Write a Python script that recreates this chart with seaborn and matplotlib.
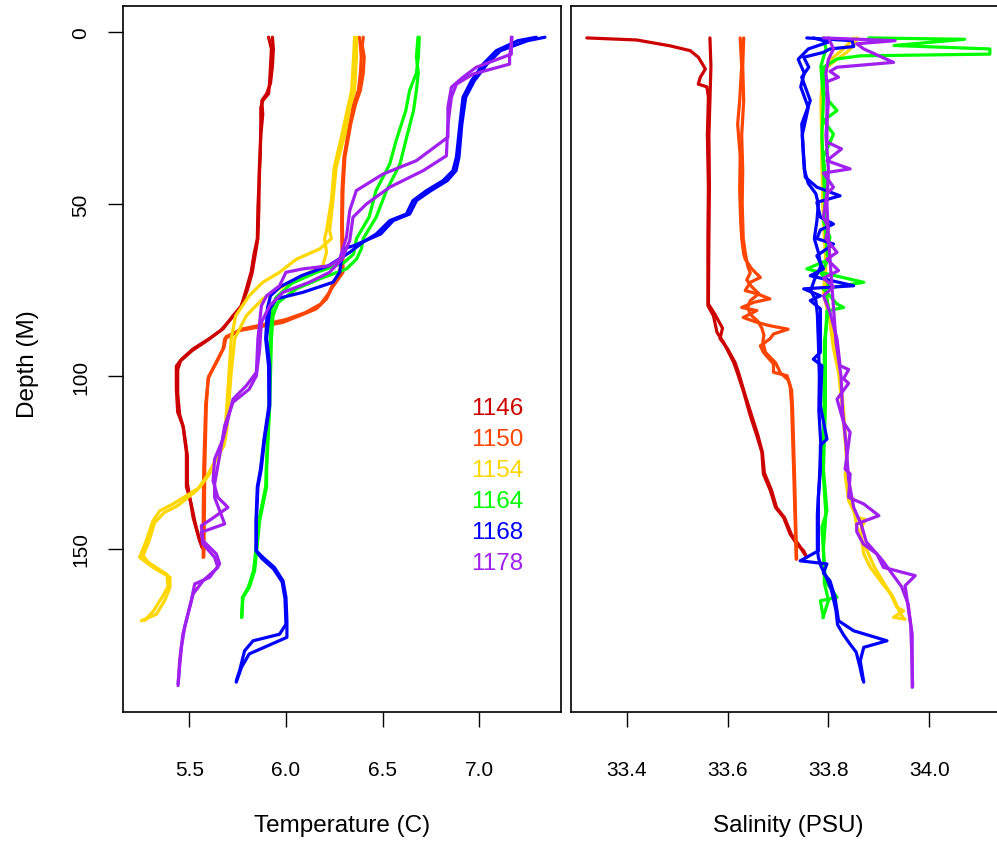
import matplotlib
matplotlib.use("Agg")
import matplotlib.pyplot as plt
import seaborn as sns
import pandas as pd

# ---------------- data ----------------
stations = ["1146", "1150", "1154", "1164", "1168", "1178"]
station_colors = ["#CD0000", "#FF4500", "#FFD700", "#00FF00", "#0000FF", "#A020F0"]

# Temperature profiles (two casts per station): depth (m) and temperature (C)
t1146a_d = [1.6, 5, 10, 15, 18, 20, 22, 26, 36, 51, 60, 64.5, 69.7, 74.6, 79.5, 82.4, 86.2, 89, 92, 95, 97, 103.7, 110.4, 114.3, 122, 132, 137, 141.9, 147.7, 150.5]
t1146a_v = [5.91, 5.925, 5.92, 5.915, 5.91, 5.88, 5.87, 5.87, 5.867, 5.855, 5.852, 5.835, 5.82, 5.795, 5.77, 5.726, 5.675, 5.605, 5.52, 5.46, 5.433, 5.433, 5.44, 5.467, 5.485, 5.485, 5.51, 5.528, 5.554, 5.575]
t1146b_d = [1.6, 5, 10, 15, 18, 20, 24, 30, 40, 51, 60, 65, 70, 75, 80, 83, 86.5, 89.5, 92.5, 95.5, 98, 105, 111, 115, 123, 131, 136, 141, 146, 149.5]
t1146b_v = [5.93, 5.935, 5.93, 5.92, 5.9, 5.875, 5.88, 5.87, 5.862, 5.86, 5.855, 5.84, 5.825, 5.80, 5.765, 5.72, 5.665, 5.595, 5.515, 5.455, 5.44, 5.44, 5.45, 5.47, 5.49, 5.49, 5.505, 5.52, 5.545, 5.565]

t1150a_d = [1.6, 4, 7.4, 12, 17, 21, 26.8, 36.4, 46, 55.8, 64.5, 69.8, 72.6, 74.6, 77.5, 80.4, 82.4, 84.3, 85.8, 86.7, 89.1, 92, 96.9, 100.7, 108.5, 126.9, 140, 152.4]
t1150a_v = [6.40, 6.395, 6.405, 6.40, 6.385, 6.36, 6.335, 6.305, 6.295, 6.292, 6.295, 6.295, 6.26, 6.235, 6.21, 6.157, 6.07, 5.985, 5.847, 5.76, 5.683, 5.675, 5.63, 5.597, 5.588, 5.58, 5.578, 5.575]
t1150b_d = [1.6, 4, 7.4, 12, 17, 21, 26.8, 36.4, 46, 55.8, 64.5, 68, 70.5, 73, 76, 79, 81.5, 83.5, 85, 86.3, 88.5, 91.5, 96, 100, 108, 126, 140, 152.5]
t1150b_v = [6.38, 6.385, 6.39, 6.385, 6.375, 6.35, 6.33, 6.30, 6.29, 6.288, 6.29, 6.285, 6.27, 6.245, 6.22, 6.18, 6.10, 6.0, 5.88, 5.77, 5.69, 5.68, 5.64, 5.60, 5.585, 5.575, 5.572, 5.572]

t1154a_d = [1.6, 7.4, 12, 17, 22, 29.7, 39.3, 49, 57.7, 60, 63, 66, 69.8, 72.7, 76.6, 82.4, 89, 103.7, 118, 122.5, 128.3, 132.2, 137, 139, 141.9, 147.7, 152.5, 155.4, 158.3, 161.2, 165, 169, 170.9]
t1154a_v = [6.365, 6.365, 6.36, 6.355, 6.33, 6.305, 6.26, 6.243, 6.226, 6.235, 6.175, 6.054, 5.967, 5.88, 5.81, 5.74, 5.717, 5.70, 5.683, 5.648, 5.605, 5.554, 5.416, 5.347, 5.312, 5.277, 5.243, 5.312, 5.40, 5.40, 5.373, 5.33, 5.252]
t1154b_d = [1.6, 7.4, 12, 17, 22, 29.7, 39.3, 49, 57.7, 60, 64, 67.9, 72.7, 77.5, 82.4, 89, 100, 115, 120, 124, 129, 133, 137.5, 139.5, 142.5, 148, 152, 154, 157.5, 161, 164, 168, 170.8]
t1154b_v = [6.355, 6.35, 6.345, 6.34, 6.32, 6.29, 6.25, 6.235, 6.21, 6.20, 6.21, 6.19, 6.02, 5.88, 5.795, 5.735, 5.715, 5.695, 5.68, 5.64, 5.59, 5.54, 5.44, 5.37, 5.32, 5.29, 5.26, 5.29, 5.385, 5.39, 5.36, 5.315, 5.27]

t1164a_d = [1.6, 7.4, 12, 17, 22.9, 31.6, 38.4, 46.1, 53.8, 60, 63, 66, 68.8, 71.7, 74.6, 78.5, 82.4, 89, 108.5, 127, 132, 141.9, 151.5, 156.4, 161.2, 164.1, 169.9]
t1164a_v = [6.683, 6.675, 6.685, 6.675, 6.66, 6.62, 6.59, 6.52, 6.467, 6.40, 6.39, 6.365, 6.313, 6.175, 6.054, 5.96, 5.933, 5.925, 5.916, 5.90, 5.90, 5.864, 5.847, 5.838, 5.81, 5.778, 5.77]
t1164b_d = [1.6, 7.4, 12, 17, 22.9, 31.6, 38.4, 46.1, 53.8, 60, 64.5, 67, 70, 73, 77, 81, 89, 108.5, 127, 132, 141.9, 151.5, 156.4, 161.2, 164.1, 169.9]
t1164b_v = [6.69, 6.685, 6.675, 6.64, 6.62, 6.57, 6.537, 6.466, 6.43, 6.365, 6.35, 6.30, 6.15, 6.03, 5.95, 5.925, 5.92, 5.912, 5.898, 5.895, 5.86, 5.842, 5.832, 5.805, 5.775, 5.772]

t1168a_d = [1.6, 2.6, 5.5, 9.4, 14.2, 19, 26.8, 36.4, 40.3, 43.2, 46.1, 49, 52.9, 54.8, 58.7, 62.1, 63, 69.8, 72.7, 75.6, 77.5, 80.4, 89, 96.9, 108.5, 118, 127, 132, 141.9, 150.6, 152.5, 155.4, 159.3, 164.1, 170.9, 175.7, 180.5, 184.4, 188.7]
t1168a_v = [7.34, 7.25, 7.11, 7.04, 6.975, 6.93, 6.91, 6.895, 6.88, 6.835, 6.75, 6.675, 6.64, 6.555, 6.49, 6.35, 6.295, 6.278, 6.243, 6.088, 5.95, 5.916, 5.90, 5.916, 5.916, 5.89, 5.872, 5.855, 5.847, 5.847, 5.881, 5.94, 5.985, 6.0, 6.005, 6.005, 5.81, 5.77, 5.743]
t1168b_d = [1.6, 2.6, 5.5, 9.4, 14.2, 19, 26.8, 36.4, 40.3, 43.2, 46.1, 49, 52.9, 54.8, 58.7, 61, 64, 67.9, 70.8, 74, 76.6, 80, 89, 96.9, 108.5, 118, 127, 132, 141.9, 150.6, 152.8, 155.8, 159.6, 164.4, 171.9, 174.8, 176.7, 179.6, 185.4, 188.3]
t1168b_v = [7.295, 7.2, 7.088, 7.02, 6.96, 6.916, 6.9, 6.882, 6.864, 6.813, 6.727, 6.657, 6.623, 6.537, 6.467, 6.40, 6.33, 6.22, 6.08, 5.97, 5.92, 5.905, 5.895, 5.91, 5.912, 5.887, 5.868, 5.852, 5.845, 5.845, 5.875, 5.935, 5.98, 5.995, 6.0, 5.967, 5.83, 5.786, 5.76, 5.743]

t1178a_d = [1.6, 6.5, 10.3, 13.2, 16.1, 21.9, 30.6, 37.4, 41.3, 46.1, 51.9, 59.6, 66, 67.9, 68.8, 69.8, 73.7, 76.6, 79.5, 89.1, 98.8, 102.7, 106.6, 112.4, 118.2, 124, 130.3, 135.1, 138, 141.4, 143.3, 147.7, 151.5, 154.4, 158.3, 160.2, 165.1, 172.8, 178.6, 189.2]
t1178a_v = [7.166, 7.166, 6.985, 6.916, 6.856, 6.838, 6.838, 6.675, 6.502, 6.364, 6.33, 6.313, 6.278, 6.226, 6.088, 6.0, 5.967, 5.90, 5.873, 5.855, 5.847, 5.795, 5.726, 5.70, 5.674, 5.631, 5.623, 5.648, 5.70, 5.614, 5.562, 5.571, 5.64, 5.657, 5.605, 5.528, 5.51, 5.476, 5.459, 5.442]
t1178b_d = [1.6, 7.4, 9.4, 12.3, 15.2, 19, 26.8, 36, 40.3, 45.1, 50, 53.8, 60.6, 66, 69.8, 72.7, 75.6, 79.5, 84.3, 92, 99.8, 103.7, 107.5, 114.3, 123, 131.2, 135.1, 142.8, 145.2, 148.6, 152.5, 155.4, 159.3, 163.1, 168.9, 174.7, 182.5, 189.7]
t1178b_v = [7.17, 7.157, 7.157, 6.967, 6.882, 6.856, 6.838, 6.83, 6.71, 6.537, 6.416, 6.347, 6.33, 6.29, 6.226, 6.12, 5.985, 5.916, 5.873, 5.864, 5.847, 5.81, 5.726, 5.683, 5.657, 5.631, 5.631, 5.683, 5.562, 5.571, 5.631, 5.648, 5.571, 5.52, 5.493, 5.467, 5.45, 5.442]

# Salinity profiles (two casts per station): depth (m) and salinity (PSU)
s1146a_d = [1.8, 2.4, 4.1, 5.5, 7.4, 10.8, 13.2, 15.2, 16, 19, 30, 45, 60, 79.5, 82.4, 87.2, 90.1, 95.9, 98.8, 104.6, 111.4, 117.2, 122, 128.3, 133.2, 138, 140.9, 145.7, 148.6, 150.6, 152.5]
s1146a_v = [33.321, 33.42, 33.486, 33.526, 33.542, 33.556, 33.546, 33.542, 33.559, 33.562, 33.56, 33.562, 33.561, 33.561, 33.572, 33.579, 33.592, 33.612, 33.619, 33.632, 33.645, 33.658, 33.668, 33.671, 33.685, 33.695, 33.711, 33.724, 33.737, 33.751, 33.757]
s1146b_d = [1.8, 10, 20, 30, 45, 60, 79, 82, 86, 89, 92, 96, 99, 105, 111, 117, 122, 128, 133, 138, 141, 146, 149, 151, 152]
s1146b_v = [33.565, 33.567, 33.565, 33.563, 33.564, 33.563, 33.562, 33.575, 33.59, 33.585, 33.6, 33.615, 33.622, 33.634, 33.647, 33.66, 33.669, 33.673, 33.687, 33.697, 33.713, 33.727, 33.742, 33.75, 33.755]

s1150a_d = [1.8, 10, 20, 26.8, 36, 46, 55, 60, 64.5, 66, 68.8, 71.3, 72.7, 75.1, 76, 77.5, 78.5, 80, 80.9, 82.9, 84.3, 85.3, 86.3, 87.7, 89.1, 91.1, 93, 96.4, 98.8, 99.8, 102.7, 108.5, 118.2, 126.9, 141.9, 153]
s1150a_v = [33.625, 33.628, 33.624, 33.62, 33.625, 33.624, 33.626, 33.628, 33.632, 33.635, 33.648, 33.665, 33.645, 33.635, 33.658, 33.684, 33.652, 33.628, 33.658, 33.631, 33.658, 33.684, 33.72, 33.691, 33.684, 33.665, 33.671, 33.691, 33.691, 33.718, 33.724, 33.727, 33.729, 33.731, 33.734, 33.736]
s1150b_d = [1.8, 10, 20, 30, 40, 50, 60, 65, 68, 70, 72, 74, 76, 78, 80, 82, 84, 86, 88, 90, 93, 96, 99, 101, 104, 110, 120, 130, 142, 153]
s1150b_v = [33.632, 33.63, 33.632, 33.628, 33.63, 33.629, 33.631, 33.636, 33.64, 33.645, 33.638, 33.648, 33.662, 33.645, 33.64, 33.645, 33.66, 33.668, 33.672, 33.67, 33.675, 33.695, 33.705, 33.72, 33.727, 33.729, 33.731, 33.733, 33.735, 33.737]

s1154a_d = [1.8, 4, 6, 8, 10.3, 17, 36, 50, 64.1, 75.6, 84.3, 92, 98.8, 108.5, 118.2, 126.9, 128.3, 136, 140.9, 141.5, 144.8, 151.5, 155.4, 159.3, 163.1, 167, 168, 169.9, 170.4]
s1154a_v = [33.857, 33.85, 33.836, 33.817, 33.797, 33.787, 33.787, 33.789, 33.797, 33.79, 33.803, 33.81, 33.82, 33.827, 33.833, 33.837, 33.833, 33.84, 33.856, 33.873, 33.863, 33.87, 33.883, 33.903, 33.923, 33.936, 33.949, 33.929, 33.952]
s1154b_d = [1.8, 5, 8, 11, 20, 40, 55, 65, 76, 85, 92, 100, 110, 120, 128, 135, 140, 145, 150, 155, 160, 164, 168, 170.5]
s1154b_v = [33.85, 33.83, 33.805, 33.79, 33.785, 33.788, 33.79, 33.794, 33.795, 33.806, 33.815, 33.823, 33.83, 33.835, 33.838, 33.845, 33.852, 33.858, 33.875, 33.89, 33.91, 33.928, 33.94, 33.95]

s1164a_d = [1.8, 2.2, 4.0, 5.0, 6.5, 7.0, 7.9, 10.3, 17, 20, 22.9, 25.8, 29.7, 36.4, 46.1, 55, 59.6, 64.5, 66, 68.8, 70, 72.7, 74.6, 79, 80, 81, 89.1, 108.5, 126.9, 139, 143.8, 159.3, 164.1, 165.1, 169.9]
s1164a_v = [33.88, 34.07, 33.93, 34.12, 34.12, 33.863, 33.817, 33.79, 33.79, 33.80, 33.817, 33.79, 33.81, 33.79, 33.797, 33.79, 33.803, 33.797, 33.803, 33.757, 33.79, 33.87, 33.79, 33.817, 33.83, 33.797, 33.794, 33.794, 33.79, 33.797, 33.787, 33.794, 33.817, 33.784, 33.79]
s1164b_d = [1.8, 5, 10, 20, 30, 40, 50, 60, 66, 70, 73, 76, 80, 90, 110, 127, 140, 150, 160, 165, 170]
s1164b_v = [33.79, 33.795, 33.785, 33.79, 33.787, 33.79, 33.793, 33.795, 33.80, 33.785, 33.80, 33.795, 33.80, 33.792, 33.791, 33.789, 33.795, 33.79, 33.792, 33.80, 33.789]

s1168a_d = [1.8, 2.6, 4.3, 5, 6, 7.4, 10.3, 13.2, 20, 26.8, 36.4, 42.2, 45.1, 47.6, 49.5, 53.8, 55.8, 57.5, 60, 61.6, 65, 68.8, 70.8, 73.7, 74.6, 76.6, 78, 80.4, 93, 95, 96.9, 108.5, 118.2, 120, 127, 135.1, 150.6, 153.5, 154.4, 157, 159.3, 164.1, 170.9, 173.8, 176.7, 178.6, 182.5, 188.7]
s1168a_v = [33.757, 33.847, 33.85, 33.803, 33.79, 33.751, 33.761, 33.747, 33.764, 33.747, 33.751, 33.754, 33.777, 33.823, 33.777, 33.784, 33.81, 33.784, 33.777, 33.81, 33.777, 33.79, 33.764, 33.85, 33.751, 33.784, 33.764, 33.784, 33.784, 33.77, 33.787, 33.784, 33.797, 33.784, 33.784, 33.78, 33.78, 33.744, 33.797, 33.79, 33.803, 33.813, 33.82, 33.85, 33.916, 33.87, 33.863, 33.87]
s1168b_d = [1.8, 3, 5, 8, 12, 16, 22, 30, 40, 44, 47, 50, 55, 60, 64, 68, 72, 75, 78, 82, 90, 100, 110, 120, 130, 140, 150, 152.5, 155, 158, 162, 168, 172, 175, 177.5, 180, 184, 188]
s1168b_v = [33.77, 33.80, 33.76, 33.74, 33.752, 33.745, 33.76, 33.748, 33.752, 33.76, 33.775, 33.78, 33.777, 33.772, 33.78, 33.785, 33.772, 33.765, 33.775, 33.778, 33.78, 33.782, 33.781, 33.785, 33.782, 33.778, 33.778, 33.78, 33.785, 33.795, 33.806, 33.815, 33.818, 33.83, 33.842, 33.855, 33.862, 33.868]

s1178a_d = [1.8, 2.6, 3.5, 5, 8.9, 10.3, 11.5, 13.2, 14.5, 26.8, 32, 34, 37.4, 39.8, 41, 45.1, 47, 53.8, 57, 60, 64, 66, 69.3, 71.5, 74, 76.6, 81.4, 89.1, 96.9, 98, 100.7, 102, 106.6, 113.3, 116.2, 126.9, 128.3, 135.1, 137, 140.4, 142.8, 145, 148.6, 151.5, 155.4, 157.8, 160.7, 168, 174.8, 190.2]
s1178a_v = [33.79, 33.932, 33.856, 33.87, 33.929, 33.817, 33.803, 33.82, 33.797, 33.797, 33.797, 33.826, 33.797, 33.843, 33.79, 33.81, 33.797, 33.79, 33.80, 33.795, 33.817, 33.797, 33.82, 33.79, 33.81, 33.79, 33.803, 33.817, 33.823, 33.84, 33.83, 33.84, 33.817, 33.83, 33.843, 33.833, 33.843, 33.84, 33.87, 33.90, 33.856, 33.856, 33.869, 33.896, 33.909, 33.972, 33.952, 33.959, 33.966, 33.966]
s1178b_d = [1.8, 5, 8, 12, 20, 30, 40, 50, 60, 70, 80, 90, 100, 110, 120, 130, 138, 143, 148, 153, 157, 161, 166, 172, 180, 190]
s1178b_v = [33.80, 33.81, 33.80, 33.795, 33.80, 33.795, 33.80, 33.797, 33.80, 33.805, 33.81, 33.815, 33.825, 33.828, 33.835, 33.84, 33.85, 33.865, 33.875, 33.905, 33.925, 33.945, 33.958, 33.963, 33.965, 33.967]

temp_casts = {
    "1146": [(t1146a_d, t1146a_v), (t1146b_d, t1146b_v)],
    "1150": [(t1150a_d, t1150a_v), (t1150b_d, t1150b_v)],
    "1154": [(t1154a_d, t1154a_v), (t1154b_d, t1154b_v)],
    "1164": [(t1164a_d, t1164a_v), (t1164b_d, t1164b_v)],
    "1168": [(t1168a_d, t1168a_v), (t1168b_d, t1168b_v)],
    "1178": [(t1178a_d, t1178a_v), (t1178b_d, t1178b_v)],
}
sal_casts = {
    "1146": [(s1146a_d, s1146a_v), (s1146b_d, s1146b_v)],
    "1150": [(s1150a_d, s1150a_v), (s1150b_d, s1150b_v)],
    "1154": [(s1154a_d, s1154a_v), (s1154b_d, s1154b_v)],
    "1164": [(s1164a_d, s1164a_v), (s1164b_d, s1164b_v)],
    "1168": [(s1168a_d, s1168a_v), (s1168b_d, s1168b_v)],
    "1178": [(s1178a_d, s1178a_v), (s1178b_d, s1178b_v)],
}

temp_ticks = [5.5, 6.0, 6.5, 7.0]
temp_ticklabels = ["5.5", "6.0", "6.5", "7.0"]
sal_ticks = [33.4, 33.6, 33.8, 34.0]
sal_ticklabels = ["33.4", "33.6", "33.8", "34.0"]
depth_ticks = [0, 50, 100, 150]
depth_ticklabels = ["0", "50", "100", "150"]

# ---------------- drawing ----------------
sns.set_style("white")
plt.rcParams["font.family"] = ["Liberation Sans", "DejaVu Sans"]
plt.rcParams["text.color"] = "black"
plt.rcParams["axes.labelcolor"] = "black"
plt.rcParams["xtick.color"] = "black"
plt.rcParams["ytick.color"] = "black"

W, H = 997, 845
fig = plt.figure(figsize=(W / 100, H / 100), dpi=100)

def frac_box(x0, y0, x1, y1):
    return [x0 / W, 1 - y1 / H, (x1 - x0) / W, (y1 - y0) / H]

ax1 = fig.add_axes(frac_box(123, 7, 561, 713))
ax2 = fig.add_axes(frac_box(570.5, 7, 1006, 713))

def draw(ax, casts):
    for st, col in zip(stations, station_colors):
        for d, v in casts[st]:
            df = pd.DataFrame({"depth": d, "val": v})
            sns.lineplot(data=df, x="val", y="depth", sort=False, estimator=None,
                         color=col, lw=2.3, ax=ax, legend=False)

draw(ax1, temp_casts)
draw(ax2, sal_casts)

for ax in (ax1, ax2):
    ax.set_ylim(197.36, -7.46)
    ax.set_xlabel("")
    ax.set_ylabel("")
    for sp in ax.spines.values():
        sp.set_visible(True)
        sp.set_color("black")
        sp.set_linewidth(1.2)

ax1.set_xlim(5.157, 7.423)
ax2.set_xlim(33.2886, 34.152)

ax1.set_xticks(temp_ticks)
ax1.set_xticklabels(temp_ticklabels)
ax2.set_xticks(sal_ticks)
ax2.set_xticklabels(sal_ticklabels)
ax1.set_yticks(depth_ticks)
ax1.set_yticklabels(depth_ticklabels, rotation=90, va="center")
ax2.set_yticks([])

for ax in (ax1, ax2):
    ax.tick_params(axis="x", direction="out", length=10.5, width=1.0, pad=24,
                   labelsize=15, bottom=True, colors="black")
ax1.tick_params(axis="y", direction="out", length=10.5, width=1.0, pad=13,
                labelsize=15, left=True, colors="black")

# station labels
for i, (st, col) in enumerate(zip(stations, station_colors)):
    ax1.text(0.854, 0.431 - i * 0.0439, st, color=col, fontsize=17.5,
             ha="center", va="center", transform=ax1.transAxes)

fig.text(342 / W, 1 - 826 / H, "Temperature (C)", ha="center", va="center", fontsize=17.5, color="black")
fig.text(788 / W, 1 - 826 / H, "Salinity (PSU)", ha="center", va="center", fontsize=17.5, color="black")
fig.text(28 / W, 1 - 364 / H, "Depth (M)", ha="center", va="center", rotation=90, fontsize=17.5, color="black")

fig.savefig("out.png", dpi=100)
